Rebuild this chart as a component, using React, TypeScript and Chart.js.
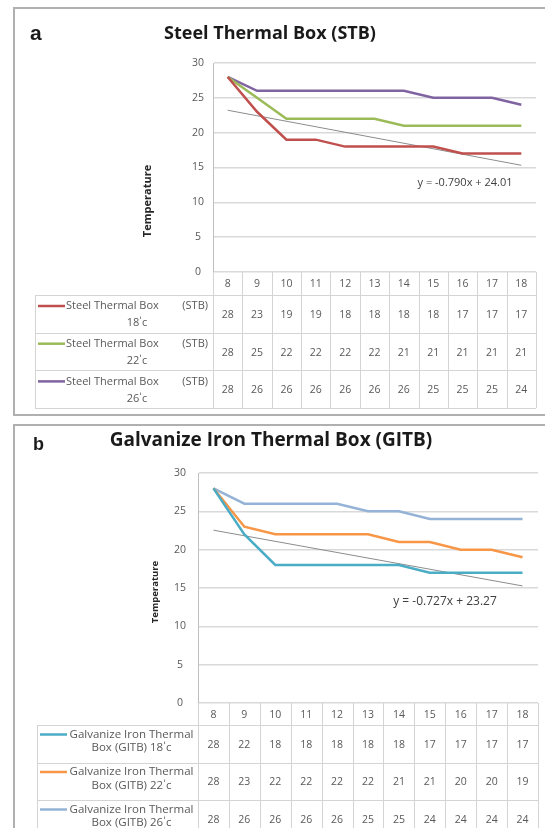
import React, { useEffect, useRef } from 'react';
import { Chart, registerables } from 'chart.js';

Chart.register(...registerables);

// ---------- data ----------
const hours = ['8', '9', '10', '11', '12', '13', '14', '15', '16', '17', '18'];
const yTickValues = [0, 5, 10, 15, 20, 25, 30];

const stb18 = [28, 23, 19, 19, 18, 18, 18, 18, 17, 17, 17];
const stb22 = [28, 25, 22, 22, 22, 22, 21, 21, 21, 21, 21];
const stb26 = [28, 26, 26, 26, 26, 26, 26, 25, 25, 25, 24];
const stbTrend = [23.22, null, null, null, null, null, null, null, null, null, 15.32];
const stbTrendLabel = 'y = -0.790x + 24.01';
const stbTitle = 'Steel Thermal Box (STB)';
const stbLegend = [
  ['Steel Thermal Box', '(STB)', "18ˈc"],
  ['Steel Thermal Box', '(STB)', "22ˈc"],
  ['Steel Thermal Box', '(STB)', "26ˈc"],
];

const gitb18 = [28, 22, 18, 18, 18, 18, 18, 17, 17, 17, 17];
const gitb22 = [28, 23, 22, 22, 22, 22, 21, 21, 20, 20, 19];
const gitb26 = [28, 26, 26, 26, 26, 25, 25, 24, 24, 24, 24];
const gitbTrend = [22.54, null, null, null, null, null, null, null, null, null, 15.27];
const gitbTrendLabel = 'y = -0.727x + 23.27';
const gitbTitle = 'Galvanize Iron Thermal Box (GITB)';
const gitbLegend = [
  ['Galvanize Iron Thermal', '', "Box (GITB) 18ˈc"],
  ['Galvanize Iron Thermal', '', "Box (GITB) 22ˈc"],
  ['Galvanize Iron Thermal', '', "Box (GITB) 26ˈc"],
];

const yTitle = 'Temperature';

const FONT = '"Open Sans", Lato, sans-serif';

type PanelCfg = {
  top: number;
  height: number;
  series: number[][];
  colors: string[];
  trend: (number | null)[];
  trendLabel: string;
  trendLabelPos: [number, number];
  trendLabelSize: number;
  legend: string[][];
  legendSize: number;
  legendY1: number;
  legendY2: number;
  numSize: number;
  padTop: number;
  padRight: number;
  yWidth: number;
  xHeight: number;
  tickPad: number;
  headerH: number;
  rowH: number;
  tableLeft: number;
  legendMode: 'split' | 'center';
  yTitlePos: [number, number];
  yTitleSize: number;
};

const panelA: PanelCfg = {
  top: 0,
  height: 420,
  series: [stb18, stb22, stb26],
  colors: ['#c0504d', '#9bbb59', '#8064a2'],
  trend: stbTrend,
  trendLabel: stbTrendLabel,
  trendLabelPos: [465, 183],
  trendLabelSize: 11,
  legend: stbLegend,
  legendSize: 11,
  legendY1: 11,
  legendY2: 17,
  numSize: 10.5,
  padTop: 63,
  padRight: 9,
  yWidth: 213,
  xHeight: 148,
  tickPad: 9,
  headerH: 23,
  rowH: 37.7,
  tableLeft: 35,
  legendMode: 'split',
  yTitlePos: [148, 201],
  yTitleSize: 11,
};

const panelB: PanelCfg = {
  top: 420,
  height: 408,
  series: [gitb18, gitb22, gitb26],
  colors: ['#4bacc6', '#f79646', '#95b3d7'],
  trend: gitbTrend,
  trendLabel: gitbTrendLabel,
  trendLabelPos: [445, 182],
  trendLabelSize: 12,
  legend: gitbLegend,
  legendSize: 11.5,
  legendY1: 9.5,
  legendY2: 13.5,
  numSize: 10.5,
  padTop: 53,
  padRight: 7,
  yWidth: 198,
  xHeight: 125,
  tickPad: 12,
  headerH: 22,
  rowH: 37.5,
  tableLeft: 37,
  legendMode: 'center',
  yTitlePos: [155, 172],
  yTitleSize: 9.5,
};

function makeTablePlugin(cfg: PanelCfg) {
  return {
    id: 'dataTable',
    afterDraw(chart: any) {
      const ctx = chart.ctx as CanvasRenderingContext2D;
      const area = chart.chartArea;
      const xs = chart.scales.x;
      const n = hours.length;
      const colW = (area.right - area.left) / n;
      const headTop = area.bottom;
      const headBot = headTop + cfg.headerH;
      const rowsBot = headBot + cfg.rowH * cfg.series.length;
      ctx.save();
      // grid lines of the table
      ctx.strokeStyle = '#d4d4d4';
      ctx.lineWidth = 1;
      ctx.beginPath();
      for (let i = 0; i <= n; i++) {
        const x = Math.round(area.left + i * colW) + 0.5;
        ctx.moveTo(x, headTop);
        ctx.lineTo(x, rowsBot);
      }
      ctx.moveTo(cfg.tableLeft + 0.5, headBot);
      ctx.lineTo(cfg.tableLeft + 0.5, rowsBot);
      for (let r = 0; r <= cfg.series.length; r++) {
        const y = Math.round(headBot + r * cfg.rowH) + 0.5;
        ctx.moveTo(cfg.tableLeft, y);
        ctx.lineTo(area.right, y);
      }
      ctx.stroke();

      // header labels
      ctx.fillStyle = '#595959';
      ctx.font = `${cfg.numSize}px ${FONT}`;
      ctx.textAlign = 'center';
      ctx.textBaseline = 'middle';
      hours.forEach((h, i) => {
        ctx.fillText(h, xs.getPixelForTick(i), (headTop + headBot) / 2 + 1);
      });
      // values
      cfg.series.forEach((s, r) => {
        const cy = headBot + (r + 0.5) * cfg.rowH;
        s.forEach((v, i) => {
          ctx.fillText(String(v), xs.getPixelForTick(i), cy + 1);
        });
      });
      // legend cells
      cfg.series.forEach((_, r) => {
        const rowTop = headBot + r * cfg.rowH;
        const [l1, l1r, l2] = cfg.legend[r];
        const ly = rowTop + cfg.legendY1;
        ctx.strokeStyle = cfg.colors[r];
        ctx.lineWidth = 2.5;
        ctx.beginPath();
        ctx.moveTo(cfg.tableLeft + 3, ly);
        ctx.lineTo(cfg.tableLeft + 30, ly);
        ctx.stroke();
        ctx.fillStyle = '#595959';
        ctx.font = `${cfg.legendSize}px ${FONT}`;
        const textL = cfg.tableLeft + 31;
        const textR = area.left - 5;
        if (cfg.legendMode === 'split') {
          ctx.textAlign = 'left';
          ctx.fillText(l1, textL, ly);
          ctx.textAlign = 'right';
          ctx.fillText(l1r, textR, ly);
          ctx.textAlign = 'center';
          ctx.fillText(l2, (textL + textR) / 2, ly + cfg.legendY2);
        } else {
          ctx.textAlign = 'center';
          ctx.fillText(l1, (textL + textR) / 2 + 1, ly);
          ctx.fillText(l2, (textL + textR) / 2 + 1, ly + cfg.legendY2);
        }
      });

      // trend equation label
      ctx.fillStyle = '#404040';
      ctx.font = `${cfg.trendLabelSize}px ${FONT}`;
      ctx.textAlign = 'center';
      ctx.fillText(cfg.trendLabel, cfg.trendLabelPos[0], cfg.trendLabelPos[1]);

      // y-axis title
      ctx.translate(cfg.yTitlePos[0], cfg.yTitlePos[1]);
      ctx.rotate(-Math.PI / 2);
      ctx.font = `bold ${cfg.yTitleSize}px ${FONT}`;
      ctx.fillStyle = '#262626';
      ctx.fillText(yTitle, 0, 0);
      ctx.restore();
    },
  };
}

function Panel({ cfg }: { cfg: PanelCfg }) {
  const ref = useRef<HTMLCanvasElement | null>(null);
  useEffect(() => {
    if (!ref.current) return;
    const chart = new Chart(ref.current, {
      type: 'line',
      data: {
        labels: hours,
        datasets: [
          ...cfg.series.map((s, i) => ({
            data: s,
            borderColor: cfg.colors[i],
            backgroundColor: cfg.colors[i],
            borderWidth: 2.5,
            pointRadius: 0,
            tension: 0,
            fill: false,
          })),
          {
            data: cfg.trend,
            borderColor: '#8c8c8c',
            borderWidth: 1,
            pointRadius: 0,
            spanGaps: true,
            fill: false,
          },
        ],
      },
      options: {
        animation: false,
        responsive: false,
        devicePixelRatio: 1,
        layout: { padding: { top: cfg.padTop, right: cfg.padRight, left: 0, bottom: 0 } },
        plugins: { legend: { display: false }, tooltip: { enabled: false }, title: { display: false } },
        scales: {
          x: {
            type: 'category',
            offset: true,
            grid: { display: false },
            border: { display: false },
            ticks: { display: false },
            afterFit: (s: any) => {
              s.height = cfg.xHeight;
            },
          },
          y: {
            min: 0,
            max: 30,
            afterBuildTicks: (s: any) => {
              s.ticks = yTickValues.map((v) => ({ value: v }));
            },
            ticks: {
              color: '#595959',
              font: { family: FONT, size: cfg.numSize },
              padding: cfg.tickPad,
              crossAlign: 'center',
            },
            grid: { color: '#d9d9d9', lineWidth: 1.5, drawTicks: false },
            border: { display: true, color: '#bfbfbf', width: 1 },
            afterFit: (s: any) => {
              s.width = cfg.yWidth;
            },
          },
        },
      } as any,
      plugins: [makeTablePlugin(cfg)],
    });
    return () => chart.destroy();
  }, [cfg]);
  return (
    <canvas
      ref={ref}
      width={545}
      height={cfg.height}
      style={{ position: 'absolute', left: 0, top: cfg.top, width: 545, height: cfg.height }}
    />
  );
}

export default function App() {
  const box: React.CSSProperties = {
    position: 'absolute',
    left: 13,
    width: 545,
    border: '2px solid #b0b0b0',
    boxSizing: 'border-box',
    background: '#fff',
  };
  const title: React.CSSProperties = {
    position: 'absolute',
    fontFamily: FONT,
    fontWeight: 700,
    color: '#1a1a1a',
    whiteSpace: 'nowrap',
    lineHeight: 1,
  };
  return (
    <div style={{ position: 'absolute', left: 0, top: 0, width: 545, height: 828, overflow: 'hidden', background: '#fff' }}>
      <div style={{ ...box, top: 7, height: 409 }} />
      <div style={{ ...box, top: 424, height: 420 }} />
      <Panel cfg={panelA} />
      <Panel cfg={panelB} />
      <div style={{ ...title, left: 30, top: 22, fontSize: 21, fontFamily: '"Liberation Sans", Arial, sans-serif' }}>a</div>
      <div style={{ ...title, left: 270, top: 23, fontSize: 18, transform: 'translateX(-50%)' }}>{stbTitle}</div>
      <div style={{ ...title, left: 33, top: 435, fontSize: 18, fontFamily: '"Liberation Sans", Arial, sans-serif' }}>b</div>
      <div style={{ ...title, left: 271, top: 430, fontSize: 19, transform: 'translateX(-50%)' }}>{gitbTitle}</div>
    </div>
  );
}
